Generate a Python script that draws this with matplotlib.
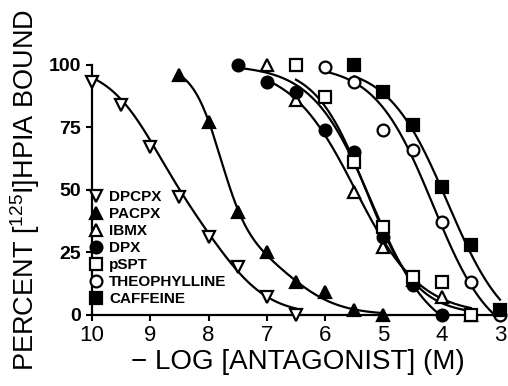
import numpy as np
import matplotlib
matplotlib.use('Agg')
import matplotlib.pyplot as plt

plt.rcParams['font.family'] = ['Liberation Sans', 'DejaVu Sans']
plt.rcParams['mathtext.fontset'] = 'custom'
plt.rcParams['mathtext.rm'] = 'Liberation Sans'

# points: -log[antagonist] vs percent bound
dpcpx_x = [10, 9.5, 9, 8.5, 8, 7.5, 7, 6.5]
dpcpx_y = [93, 84, 67, 47, 31, 19, 7, 0]
pacpx_x = [8.5, 8, 7.5, 7, 6.5, 6, 5.5, 5]
pacpx_y = [96, 77, 41, 25, 13, 9, 2, 0]
ibmx_x = [7, 6.5, 5.5, 5, 4.5, 4, 3.5]
ibmx_y = [100, 86, 49, 27, 14, 7, 0]
dpx_x = [7.5, 7, 6.5, 6, 5.5, 5, 4.5, 4]
dpx_y = [100, 93, 89, 74, 65, 31, 12, 0]
pspt_x = [6.5, 6, 5.5, 5, 4.5, 4, 3.5]
pspt_y = [100, 87, 61, 35, 15, 13, 0]
theo_x = [6, 5.5, 5, 4.5, 4, 3.5, 3]
theo_y = [99, 93, 74, 66, 37, 13, 0]
caff_x = [5.5, 5, 4.5, 4, 3.5, 3]
caff_y = [100, 89, 76, 51, 28, 2]

# fitted curves (estimated): (fraction, p50, slope) per site, plus bottom
fits = {
    'DPCPX': [(0.6, 8.95, 1.0), (0.4, 7.7, 1.0)],
    'PACPX': [(0.7, 7.8, 1.8), (0.3, 6.6, 1.0)],
    'IBMX': [(1.0, 5.48, 0.78)],
    'DPX': [(1.0, 5.2, 0.85)],
    'pSPT': [(1.0, 5.3, 1.0)],
    'THEOPHYLLINE': [(1.0, 4.15, 0.87)],
    'CAFFEINE': [(1.0, 3.9, 0.85)],
}
bottoms = {'DPCPX': 0, 'PACPX': 0, 'IBMX': 0, 'DPX': -10, 'pSPT': 0,
           'THEOPHYLLINE': -12, 'CAFFEINE': -10}


def curve(name, x):
    f = np.zeros_like(x)
    for frac, p, n in fits[name]:
        f += frac / (1 + 10 ** (n * (p - x)))
    b = bottoms[name]
    return np.clip(b + (100 - b) * f, 0, None)


series = [
    ('DPCPX', dpcpx_x, dpcpx_y, 'v', 'white'),
    ('PACPX', pacpx_x, pacpx_y, '^', 'black'),
    ('IBMX', ibmx_x, ibmx_y, '^', 'white'),
    ('DPX', dpx_x, dpx_y, 'o', 'black'),
    ('pSPT', pspt_x, pspt_y, 's', 'white'),
    ('THEOPHYLLINE', theo_x, theo_y, 'o', 'white'),
    ('CAFFEINE', caff_x, caff_y, 's', 'black'),
]

fig = plt.figure(figsize=(5.08, 3.86), dpi=100)
ax = fig.add_axes([0.181, 0.184, 0.809, 0.648])

for name, xs, ys, m, fc in series:
    xx = np.linspace(min(xs), max(xs), 200)
    ax.plot(xx, curve(name, xx), color='black', lw=1.6, clip_on=False, zorder=2)
for name, xs, ys, m, fc in series:
    ax.plot(xs, ys, ls='none', marker=m, ms=8.5, mfc=fc, mec='black', mew=1.6,
            label=name, clip_on=False, zorder=3)

ax.set_xlim(10, 2.95)
ax.set_ylim(0, 100)
ax.set_xticks([10, 9, 8, 7, 6, 5, 4, 3])
ax.set_yticks([0, 25, 50, 75, 100])
ax.spines['top'].set_visible(False)
ax.spines['right'].set_visible(False)
ax.spines['left'].set_linewidth(1.6)
ax.spines['bottom'].set_linewidth(1.6)
ax.tick_params(direction='out', width=1.5, length=4)
ax.tick_params(axis='y', pad=4)
for t in ax.get_yticklabels():
    t.set_fontsize(14)
    t.set_fontweight('bold')
for t in ax.get_xticklabels():
    t.set_fontsize(16)

ax.set_xlabel('\u2212 LOG [ANTAGONIST] (M)', fontsize=20, labelpad=2)
ax.set_ylabel('PERCENT [$^{125}$I]HPIA BOUND', fontsize=19.5, labelpad=5)

leg = ax.legend(loc='upper left', bbox_to_anchor=(-0.005, 0.5), frameon=False,
                handlelength=0.8, handletextpad=0.45, labelspacing=0.2,
                borderpad=0, borderaxespad=0,
                prop={'weight': 'bold', 'size': 11})

fig.savefig('out.png', dpi=100)
